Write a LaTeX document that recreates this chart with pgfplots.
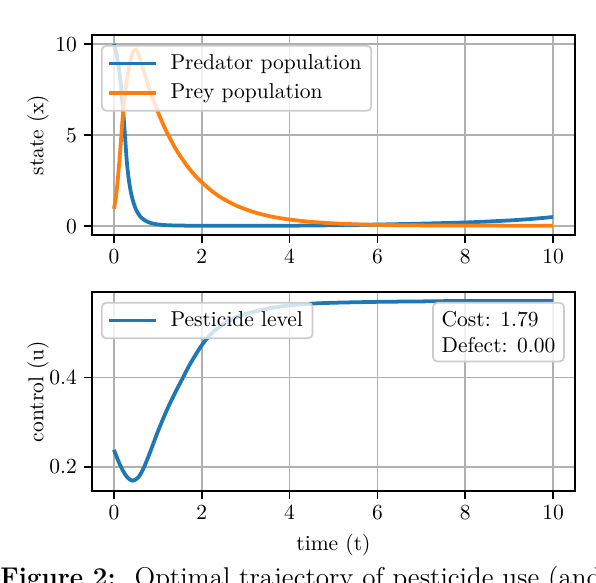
\documentclass[border=0pt]{standalone}
\usepackage{graphicx}
\usepackage{pgfplots}
\pgfplotsset{compat=1.18}
\definecolor{mblue}{HTML}{1F77B4}
\definecolor{morange}{HTML}{FF7F0E}
\definecolor{gridgray}{HTML}{B0B0B0}
\definecolor{legedge}{HTML}{CCCCCC}
\pgfplotsset{
  common/.style={
    scale only axis,
    width=224.64pt,
    xmin=-0.5, xmax=10.5,
    xtick={0,2,4,6,8,10},
    grid=major,
    major grid style={gridgray, line width=0.8pt},
    axis line style={black, line width=0.8pt},
    tick align=outside,
    major tick length=3.5pt,
    tick style={black, line width=0.8pt},
    xtick pos=left, ytick pos=left,
    ylabel style={at={(axis description cs:-0.112,0.5)}, anchor=center},
    legend cell align=left,
    legend image code/.code={\draw[#1] (0pt,0pt) -- (22pt,0pt); \path (25.7pt,0pt);},
    legend style={at={(axis description cs:0.0186,0.95)}, anchor=north west,
      fill=white, fill opacity=0.8, text opacity=1, draw=legedge, rounded corners=2pt,
      line width=0.8pt, font=\normalsize, inner xsep=2.5pt, inner ysep=2pt,
      row sep=1.3pt},
  }
}
\begin{document}
\begin{tikzpicture}
\begin{axis}[common,
  at={(42.79pt,-109.30pt)}, anchor=south west,
  height=93.02pt,
  ymin=-0.49, ymax=10.5,
  ytick={0,5,10},
  ylabel={state (x)},
]
\addplot[mblue, line width=1.75pt, smooth] coordinates {
(0,10.0) (0.05,9.55) (0.1,8.85) (0.15,7.95) (0.2,6.6) (0.25,5.0) (0.28,3.95) (0.3,3.35)
(0.33,2.7) (0.36,2.2) (0.4,1.7) (0.45,1.25) (0.5,0.92) (0.55,0.7) (0.6,0.52) (0.7,0.32)
(0.8,0.2) (0.9,0.13) (1.0,0.09) (1.2,0.05) (1.5,0.03) (2,0.018) (3,0.015) (4,0.022)
(5,0.045) (6,0.085) (7,0.135) (8,0.2) (8.5,0.25) (9,0.31) (9.5,0.39) (10,0.5)
};
\addlegendentry{Predator population}
\addplot[morange, line width=1.75pt, smooth] coordinates {
(0,0.95) (0.05,1.7) (0.1,2.9) (0.15,4.4) (0.2,6.0) (0.25,7.2) (0.3,8.1) (0.35,8.8) (0.4,9.35)
(0.45,9.65) (0.5,9.7) (0.55,9.5) (0.6,9.15) (0.7,8.35) (0.8,7.6) (0.9,6.91) (1.0,6.28)
(1.1,5.70) (1.2,5.18) (1.3,4.71) (1.4,4.27) (1.5,3.88) (1.6,3.53) (1.7,3.20) (1.8,2.91)
(1.9,2.64) (2.0,2.41) (2.2,1.98) (2.4,1.63) (2.6,1.35) (2.8,1.11) (3.0,0.92) (3.25,0.72)
(3.5,0.57) (3.75,0.45) (4.0,0.36) (4.25,0.29) (4.5,0.23) (5.0,0.15) (5.5,0.1) (6.0,0.07)
(6.5,0.05) (7.0,0.04) (8.0,0.03) (9.0,0.025) (10.0,0.02)
};
\addlegendentry{Prey population}
\end{axis}
\begin{axis}[common,
  at={(42.79pt,-228.36pt)}, anchor=south west,
  height=92.55pt,
  ymin=0.146, ymax=0.591,
  ytick={0.2,0.4},
  yticklabel style={/pgf/number format/fixed, /pgf/number format/precision=1},
  ylabel={control (u)},
  xlabel={time (t)},
]
\addplot[mblue, line width=1.75pt, smooth] coordinates {
(0,0.238) (0.1,0.213) (0.2,0.192) (0.3,0.177) (0.42,0.169) (0.55,0.176) (0.67,0.196)
(0.8,0.227) (0.9,0.253) (1.0,0.279) (1.1,0.303) (1.2,0.326) (1.3,0.347) (1.4,0.367)
(1.5,0.386) (1.6,0.405) (1.7,0.424) (1.8,0.441) (1.9,0.457) (2.0,0.472) (2.1,0.485)
(2.2,0.496) (2.3,0.505) (2.4,0.513) (2.5,0.52) (2.75,0.533) (3.0,0.542) (3.5,0.554)
(4.0,0.561) (4.5,0.565) (5.0,0.567) (6.0,0.569) (7.0,0.570) (8.0,0.571) (10,0.571)
};
\addlegendentry{Pesticide level}
\node[anchor=north east, align=left, fill=white, fill opacity=0.8, text opacity=1,
  draw=legedge, line width=0.8pt, rounded corners=2pt, inner xsep=4pt, inner ysep=4pt]
  at (axis description cs:0.979,0.95) {Cost: 1.79\\Defect: 0.00};
\end{axis}
\node[anchor=base west, inner sep=0pt, font=\fontsize{12.6}{15}\selectfont] at (0pt,-273.0pt)
  {\scalebox{0.96}[1]{\textbf{Figure 2:}}\hspace{8.8pt}Optimal trajectory of pesticide use (and the resulting populations)};
\pgfresetboundingbox
\useasboundingbox (0pt,0pt) rectangle (277.2pt,-270.7pt);
\end{tikzpicture}
\end{document}
